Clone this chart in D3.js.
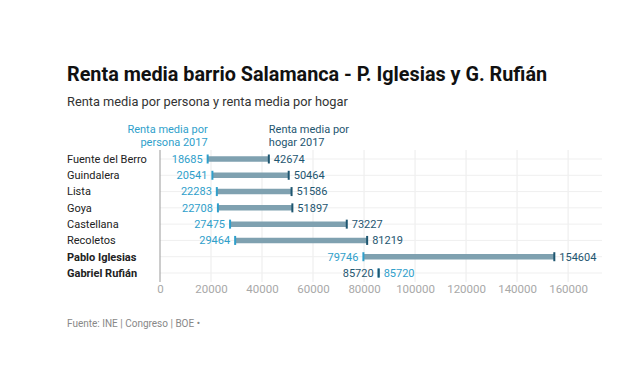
<!DOCTYPE html>
<html><head><meta charset="utf-8">
<script src="https://cdn.jsdelivr.net/npm/d3@7"></script>
<style>
body{margin:0;background:#fff;font-family:Roboto,"Noto Sans",sans-serif;}
</style></head>
<body><svg id="c" width="640" height="384"></svg>
<script>
const categories = ["Fuente del Berro","Guindalera","Lista","Goya","Castellana","Recoletos","Pablo Iglesias","Gabriel Rufián"];
const persona = [18685,20541,22283,22708,27475,29464,79746,85720];
const hogar = [42674,50464,51586,51897,73227,81219,154604,85720];
const boldRows = ["Pablo Iglesias","Gabriel Rufián"];
const xTicks = [0,20000,40000,60000,80000,100000,120000,140000,160000];

const svg = d3.select("#c");
const light = "#2f9fcb", dark = "#1e5670", barCol = "#7fa1b0";
const x = d3.scaleLinear().domain([0,173300]).range([160,602]);
const y = d3.scalePoint().domain(categories).range([159,273]);

svg.append("text").attr("x",67).attr("y",81).attr("font-size",19.8).attr("font-weight",700)
  .attr("fill","#111").text("Renta media barrio Salamanca - P. Iglesias y G. Rufián");
svg.append("text").attr("x",67).attr("y",106).attr("font-size",12.8).attr("fill","#333")
  .text("Renta media por persona y renta media por hogar");

// grid
const g = svg.append("g");
g.selectAll(".vg").data(xTicks.slice(1)).join("line")
  .attr("x1",d=>x(d)).attr("x2",d=>x(d)).attr("y1",150).attr("y2",282)
  .attr("stroke","#ebebeb").attr("stroke-width",1);
g.selectAll(".hg").data(categories).join("line")
  .attr("x1",160).attr("x2",602).attr("y1",d=>y(d)).attr("y2",d=>y(d))
  .attr("stroke","#efefef").attr("stroke-width",1);
g.append("line").attr("x1",x(0)).attr("x2",x(0)).attr("y1",150).attr("y2",282)
  .attr("stroke","#999").attr("stroke-width",1);

// axis labels
const axis = d3.axisBottom(x).tickValues(xTicks).tickFormat(d3.format("d")).tickSize(0).tickPadding(0);
const ax = svg.append("g").attr("transform","translate(0,283)").call(axis);
ax.select(".domain").remove();
ax.selectAll("text").attr("font-size",11.5).attr("fill","#a8a8a8").attr("font-family","Roboto,sans-serif").attr("dy","0.9em");

// row labels
svg.selectAll(".rl").data(categories).join("text")
  .attr("x",67).attr("y",d=>y(d)).attr("dy","0.35em").attr("font-size",11)
  .attr("font-weight",d=>boldRows.includes(d)?700:400).attr("fill","#222").text(d=>d);

const rows = categories.map((c,i)=>({c,p:persona[i],h:hogar[i]}));
// bars
svg.selectAll(".bar").data(rows).join("line")
  .attr("x1",d=>x(d.p)).attr("x2",d=>x(d.h)).attr("y1",d=>y(d.c)).attr("y2",d=>y(d.c))
  .attr("stroke",barCol).attr("stroke-width",5.5);
// ticks
svg.selectAll(".tp").data(rows).join("line")
  .attr("x1",d=>x(d.p)).attr("x2",d=>x(d.p)).attr("y1",d=>y(d.c)-4.5).attr("y2",d=>y(d.c)+4.5)
  .attr("stroke",light).attr("stroke-width",2);
svg.selectAll(".th").data(rows).join("line")
  .attr("x1",d=>x(d.h)).attr("x2",d=>x(d.h)).attr("y1",d=>y(d.c)-4.5).attr("y2",d=>y(d.c)+4.5)
  .attr("stroke",dark).attr("stroke-width",2);
// value labels
svg.selectAll(".lp").data(rows).join("text")
  .attr("x",d=>d.p<d.h?x(d.p)-5:x(d.p)+5).attr("text-anchor",d=>d.p<d.h?"end":"start")
  .attr("y",d=>y(d.c)).attr("dy","0.35em").attr("font-size",11).attr("fill",light).text(d=>d.p);
svg.selectAll(".lh").data(rows).join("text")
  .attr("x",d=>d.p<d.h?x(d.h)+5:x(d.h)-5).attr("text-anchor",d=>d.p<d.h?"start":"end")
  .attr("y",d=>y(d.c)).attr("dy","0.35em").attr("font-size",11).attr("fill",dark).text(d=>d.h);

// header labels
const hp = svg.append("text").attr("x",x(persona[0])).attr("text-anchor","end").attr("font-size",11).attr("fill",light);
hp.append("tspan").attr("x",x(persona[0])).attr("y",133).text("Renta media por");
hp.append("tspan").attr("x",x(persona[0])).attr("y",146).text("persona 2017");
const hh = svg.append("text").attr("x",x(hogar[0])).attr("text-anchor","start").attr("font-size",11).attr("fill",dark);
hh.append("tspan").attr("x",x(hogar[0])).attr("y",133).text("Renta media por");
hh.append("tspan").attr("x",x(hogar[0])).attr("y",146).text("hogar 2017");

svg.append("text").attr("x",67).attr("y",327).attr("font-size",10).attr("fill","#888")
  .text("Fuente: INE | Congreso | BOE •");
</script></body></html>
